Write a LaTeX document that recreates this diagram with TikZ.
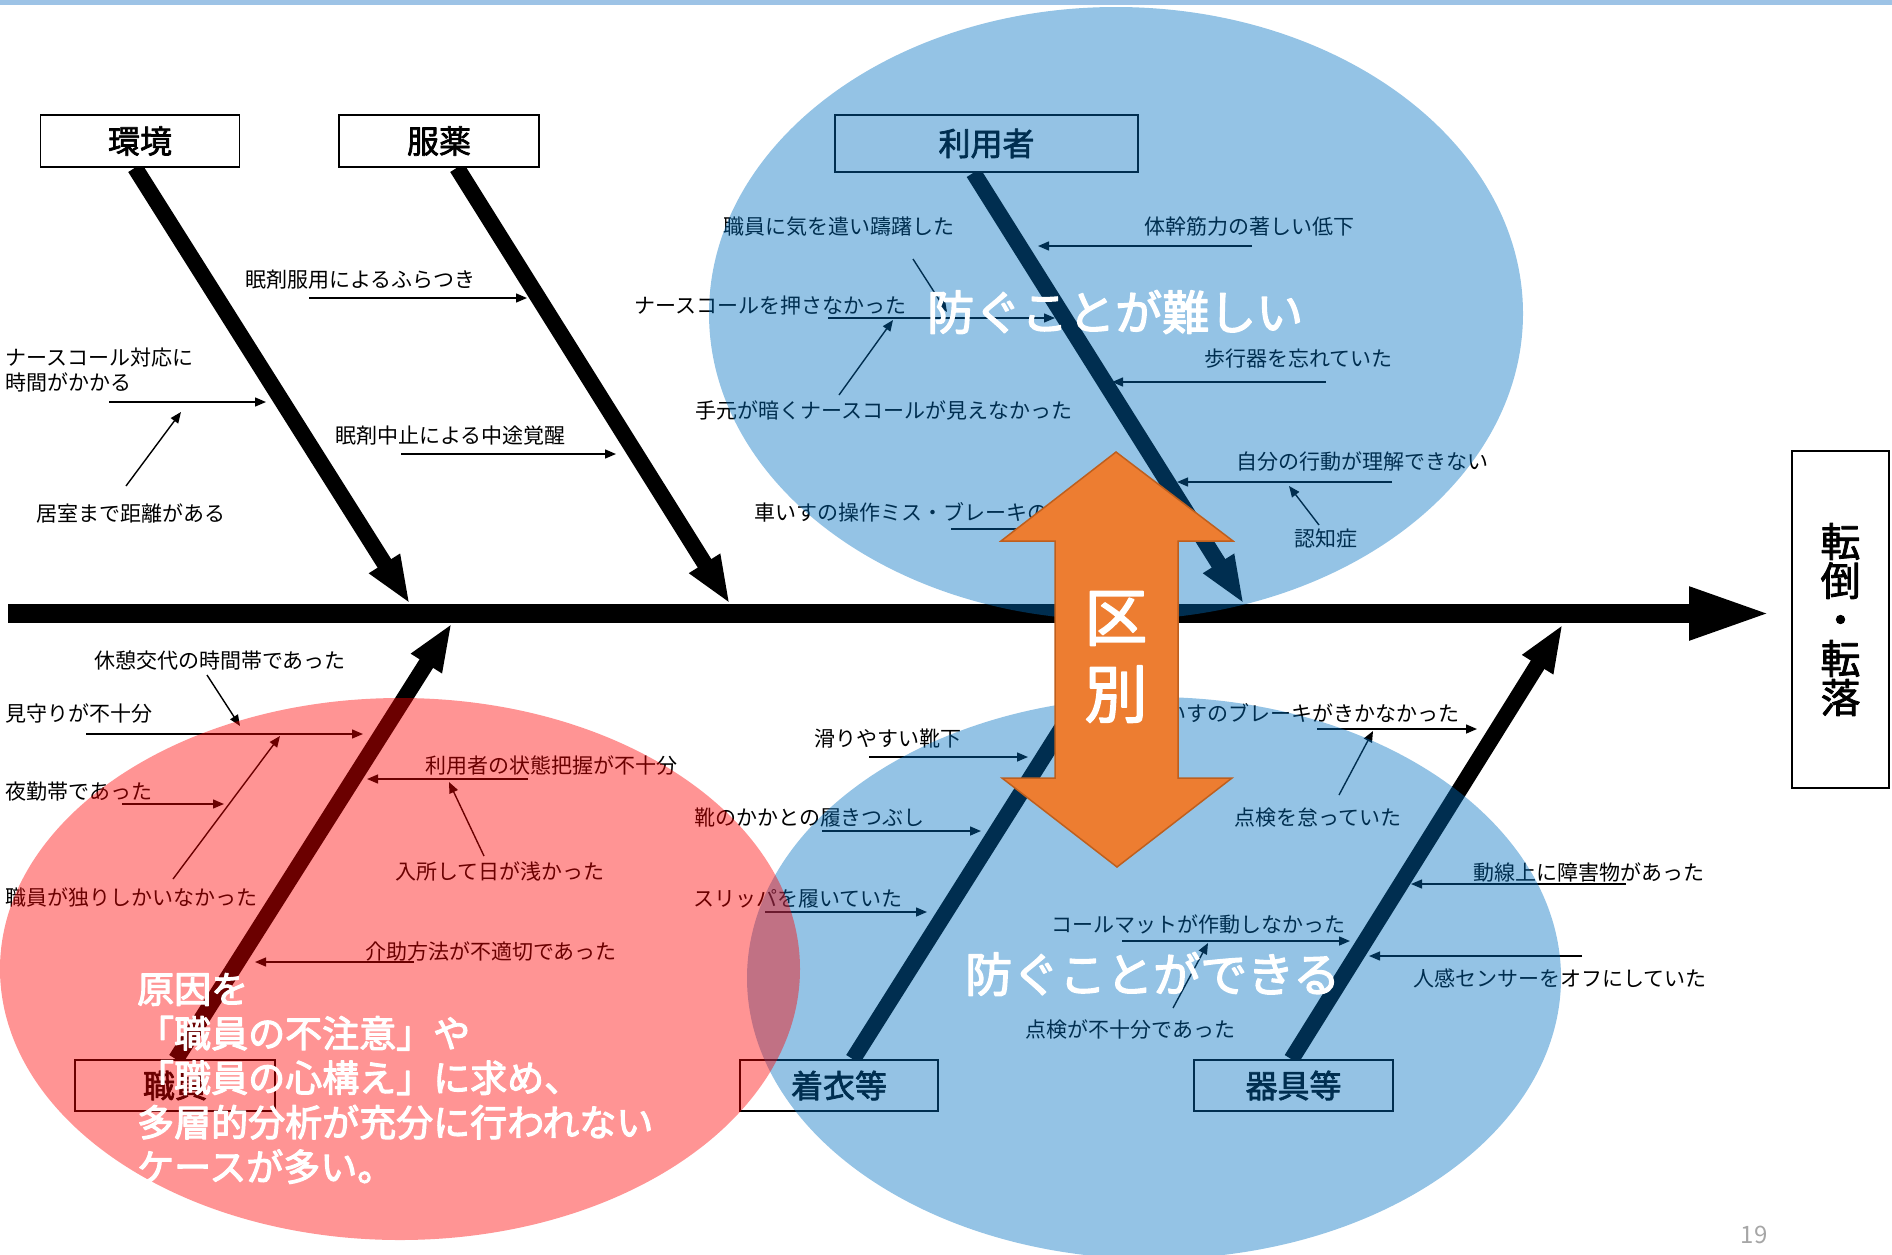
\documentclass[tikz,border=0pt]{standalone}
\usepackage{fontspec}
\setmainfont{Noto Sans CJK JP}
\usetikzlibrary{arrows.meta,backgrounds}
\newcommand{\hvy}[2]{\special{pdf:code 2 Tr 1 j #1 w}#2\special{pdf:code 0 Tr 0 j}}
\definecolor{topbar}{RGB}{157,195,230}
\definecolor{elblue}{RGB}{0,112,192}
\definecolor{elred}{RGB}{255,0,0}
\definecolor{orangef}{RGB}{237,125,49}
\definecolor{oranged}{RGB}{190,95,30}
\definecolor{pagegray}{RGB}{166,166,166}
\tikzset{
  lbl/.style={font=\fontsize{21}{25}\selectfont, inner sep=0pt, anchor=west},
  conn/.style={line width=1.4pt, -{Triangle[length=11pt,width=9pt]}},
  bone/.style={line width=16pt, -{Triangle[length=48pt,width=33pt]}},
  spine/.style={line width=19pt, -{Triangle[length=83pt,width=48pt]}},
  catbox/.style={draw, line width=1.5pt, fill=white, minimum width=199pt, minimum height=52pt,
    font=\fontsize{32}{36}\selectfont, inner sep=0pt},
  bigwhite/.style={text=white, font=\fontsize{47}{52}\selectfont, inner sep=0pt, anchor=west},
  circ/.style={fill opacity=0.42},
}
\begin{document}
\begin{tikzpicture}[x=1pt,y=-1pt]
\useasboundingbox (0,0) rectangle (1892,1254);
\fill[topbar] (0,0) rectangle (1892,5);

% category boxes
\node[catbox] (kankyo) at (140,141) {\hvy{0.7}{環境}};
\node[catbox, minimum width=200pt] (fukuyaku) at (439,141) {\hvy{0.7}{服薬}};
\node[catbox, minimum width=303pt, minimum height=57pt] (riyo) at (986.5,143.5) {\hvy{0.7}{利用者}};
\node[catbox, minimum width=200pt, minimum height=51pt] (shokuin) at (175,1085.5) {\hvy{0.7}{職員}};
\node[catbox, minimum width=198pt, minimum height=51pt] (chakui) at (839,1085.5) {\hvy{0.7}{着衣等}};
\node[catbox, minimum height=51pt] (kigu) at (1293.5,1085.5) {\hvy{0.7}{器具等}};
\node[catbox, minimum width=97pt, minimum height=337pt, align=center,
      font=\fontsize{40}{39}\selectfont] (tento) at (1840.5,619.5) {\hvy{0.8}{転\\倒\\・\\転\\落}};

% spine and bones
\coordinate (s0) at (8,613.5);
\coordinate (s1) at (1772,613.5);
\coordinate (tK) at (410,604);
\coordinate (tF) at (730,604);
\coordinate (tR) at (1244,604);
\coordinate (tS) at (452,623);
\coordinate (tC) at (1128,623);
\coordinate (tG) at (1563,624);
\begin{scope}[on background layer]
\draw[spine] (s0) -- (s1);
\draw[bone] ([xshift=-5pt]kankyo.south) -- (tK);
\draw[bone] ([xshift=18pt]fukuyaku.south) -- (tF);
\draw[bone] ([xshift=-13pt]riyo.south) -- (tR);
\draw[bone] ([xshift=1pt]shokuin.north) -- (tS);
\draw[bone] ([xshift=14pt]chakui.north) -- (tC);
\draw[bone] ([xshift=-2pt]kigu.north) -- (tG);
\end{scope}

% labels
\node[lbl, align=left] (L1) at (5,370.5) {ナースコール対応に\\時間がかかる};
\node[lbl] (L2) at (36,513) {居室まで距離がある};
\node[lbl] (L3) at (245,280) {眠剤服用によるふらつき};
\node[lbl] (L4) at (335,436) {眠剤中止による中途覚醒};
\node[lbl] (L5) at (723,227) {職員に気を遣い躊躇した};
\node[lbl] (L6) at (634,306) {ナースコールを押さなかった};
\node[lbl] (L7) at (695,410) {手元が暗くナースコールが見えなかった};
\node[lbl] (L8) at (1144,227) {体幹筋力の著しい低下};
\node[lbl] (L9) at (1204,359) {歩行器を忘れていた};
\node[lbl] (L10) at (1236,461) {自分の行動が理解できない};
\node[lbl] (L11) at (1294,539) {認知症};
\node[lbl] (L12) at (754,512) {車いすの操作ミス・ブレーキの};
\node[lbl] (L13) at (94,660) {休憩交代の時間帯であった};
\node[lbl] (L14) at (5,713) {見守りが不十分};
\node[lbl] (L15) at (5,792) {夜勤帯であった};
\node[lbl] (L16) at (5,897) {職員が独りしかいなかった};
\node[lbl] (L17) at (425,765) {利用者の状態把握が不十分};
\node[lbl] (L18) at (395,871) {入所して日が浅かった};
\node[lbl] (L19) at (365,951) {介助方法が不適切であった};
\node[lbl] (L20) at (814,739) {滑りやすい靴下};
\node[lbl] (L21) at (694,818) {靴のかかとの履きつぶし};
\node[lbl] (L22) at (693,899) {スリッパを履いていた};
\node[lbl, anchor=east] (L23) at (1460,713) {車いすのブレーキがきかなかった};
\node[lbl] (L24) at (1234,818) {点検を怠っていた};
\node[lbl] (L25) at (1473,872) {動線上に障害物があった};
\node[lbl] (L26) at (1413,978) {人感センサーをオフにしていた};
\node[lbl] (L27) at (1051,924) {コールマットが作動しなかった};
\node[lbl] (L28) at (1025,1029) {点検が不十分であった};

% small connectors
\coordinate (a1s) at (109,402);  \coordinate (a1e) at (266,402);
\coordinate (a2s) at (126,486);  \coordinate (a2e) at (181,412);
\coordinate (a3s) at (309,298);  \coordinate (a3e) at (527,298);
\coordinate (a4s) at (401,454);  \coordinate (a4e) at (616,454);
\coordinate (a5s) at (913,259);  \coordinate (a5e) at (947,312);
\coordinate (a6s) at (828,318);  \coordinate (a6e) at (1055,318);
\coordinate (a7s) at (839,395);  \coordinate (a7e) at (893,320);
\coordinate (a8s) at (1252,246); \coordinate (a8e) at (1038,246);
\coordinate (a9s) at (1326,382); \coordinate (a9e) at (1112,382);
\coordinate (a10s) at (1392,482); \coordinate (a10e) at (1177,482);
\coordinate (a11s) at (1319,525); \coordinate (a11e) at (1289,486);
\coordinate (a12s) at (951,529);  \coordinate (a12e) at (1190,529);
\coordinate (a13s) at (207,675);  \coordinate (a13e) at (240,726);
\coordinate (a14s) at (86,734);   \coordinate (a14e) at (363,734);
\coordinate (a15s) at (122,804);  \coordinate (a15e) at (224,804);
\coordinate (a16s) at (173,879);  \coordinate (a16e) at (280,736);
\coordinate (a17s) at (528,779);  \coordinate (a17e) at (367,779);
\coordinate (a18s) at (484,856);  \coordinate (a18e) at (449,782);
\coordinate (a19s) at (414,962);  \coordinate (a19e) at (255,962);
\coordinate (a20s) at (869,757);  \coordinate (a20e) at (1028,757);
\coordinate (a21s) at (822,831);  \coordinate (a21e) at (981,831);
\coordinate (a22s) at (765,912);  \coordinate (a22e) at (927,912);
\coordinate (a23s) at (1317,729); \coordinate (a23e) at (1477,729);
\coordinate (a24s) at (1339,795); \coordinate (a24e) at (1373,731);
\coordinate (a25s) at (1626,884); \coordinate (a25e) at (1411,884);
\coordinate (a26s) at (1582,956); \coordinate (a26e) at (1369,956);
\coordinate (a27s) at (1122,941); \coordinate (a27e) at (1350,941);
\coordinate (a28s) at (1173,1008); \coordinate (a28e) at (1208,943);
\foreach \i in {1,...,28} { \draw[conn] (a\i s) -- (a\i e); }

% translucent circles
\fill[elblue, circ] (1116,313.5) ellipse [x radius=407, y radius=306.5];
\fill[elblue, circ] (1154,978) ellipse [x radius=407, y radius=281];
\fill[elred, circ] (400,969) ellipse [x radius=400, y radius=271];

% white overlay texts
\node[bigwhite] (W1) at (927,312) {\hvy{1.3}{防ぐことが難しい}};
\node[bigwhite] (W2) at (965,974) {\hvy{1.3}{防ぐことができる}};
\node[text=white, font=\fontsize{37}{44.5}\selectfont, inner sep=0pt, anchor=west, align=left]
  (W3) at (137,1078.5) {\hvy{1.1}{原因を\\「職員の不注意」や\\「職員の心構え」に求め、\\多層的分析が充分に行われない\\ケースが多い。}};

% orange double arrow
\filldraw[fill=orangef, draw=oranged, line width=1.5pt]
  (1116,452) -- (1233,541) -- (1178,541) -- (1178,778) -- (1232,778) -- (1117,867)
  -- (1002,778) -- (1055,778) -- (1055,541) -- (1001,541) -- cycle;
\node[text=white, font=\fontsize{63}{77}\selectfont, inner sep=0pt, align=center] (kubetsu) at (1116,657) {\hvy{1.5}{区\\別}};

% page number
\node[text=pagegray, font=\fontsize{24}{28}\selectfont, inner sep=0pt] (pnum) at (1754,1235) {19};
\end{tikzpicture}
\end{document}
